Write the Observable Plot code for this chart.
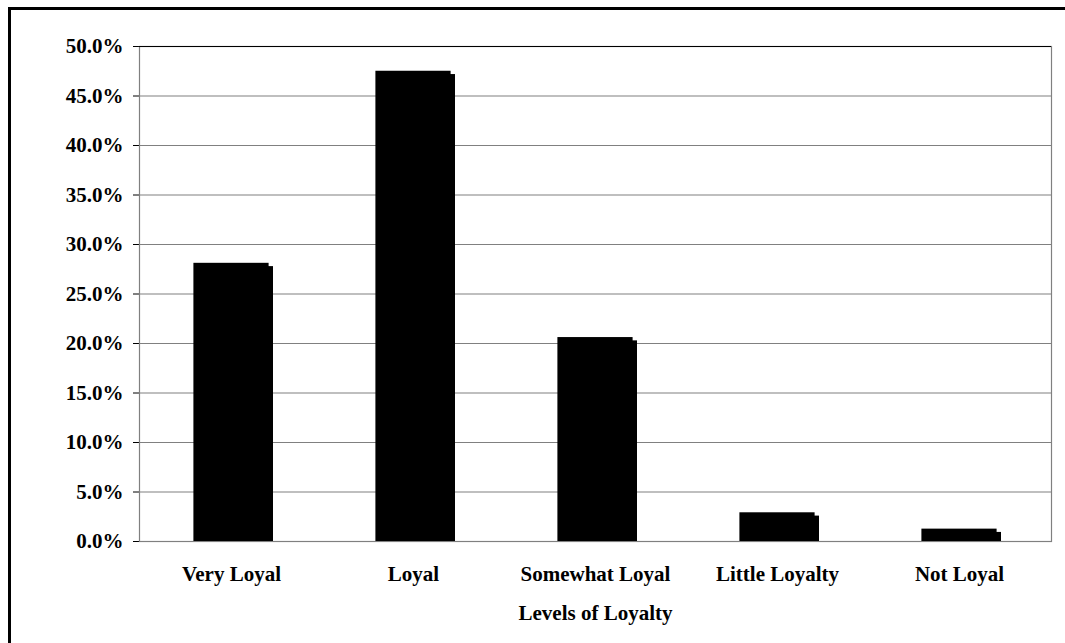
<!DOCTYPE html>
<html><head><meta charset="utf-8">
<script src="https://cdn.jsdelivr.net/npm/d3@7"></script>
<script src="https://cdn.jsdelivr.net/npm/@observablehq/plot@0.6"></script>
<style>
body{margin:0;background:#fff;}
#wrap{position:relative;width:1065px;height:643px;overflow:hidden;background:#fff;}
#wrap svg{display:block;}
#border{position:absolute;left:8px;top:7px;width:1100px;height:700px;border-left:3px solid #000;border-top:3px solid #000;pointer-events:none;}
</style></head><body><div id="wrap"></div>
<script>
const categories = ["Very Loyal", "Loyal", "Somewhat Loyal", "Little Loyalty", "Not Loyal"];
const values = [28.1, 47.5, 20.6, 2.9, 1.25];
const yTicks = [0, 5, 10, 15, 20, 25, 30, 35, 40, 45, 50];
const xTitle = "Levels of Loyalty";

const data = categories.map((c, i) => ({category: c, value: values[i]}));

const chart = Plot.plot({
  width: 1065,
  height: 643,
  marginLeft: 139,
  marginRight: 14,
  marginTop: 46,
  marginBottom: 102,
  style: {fontFamily: "'Liberation Serif', 'Times New Roman', serif", fontSize: "21px", fontWeight: "bold", background: "transparent", color: "#000"},
  x: {domain: categories, padding: 0, label: null, tickSize: 0, tickPadding: 25},
  y: {domain: [0, 50], ticks: yTicks, tickFormat: d => d.toFixed(1) + "%", tickSize: 6, tickPadding: 10, label: null, line: true},
  marks: [
    Plot.ruleY(yTicks.filter(t => t > 0 && t < 50), {stroke: "#808080", strokeWidth: 1.2}),
    Plot.frame({stroke: "#808080", strokeWidth: 1.2}),
    Plot.ruleY([50], {stroke: "#000", strokeWidth: 1.2}),
    Plot.barY(data, {x: "category", y: "value", fill: "#000", insetLeft: 53.4, insetRight: 53.4, insetTop: 3.3, dx: 4.4}),
    Plot.barY(data, {x: "category", y: "value", fill: "#000", insetLeft: 53.4, insetRight: 53.4}),
    Plot.text([xTitle], {text: d => d, frameAnchor: "bottom", dy: 78, fontSize: 21, fontWeight: "bold"})
  ]
});
const wrap = document.getElementById("wrap");
wrap.appendChild(chart);
const b = document.createElement("div");
b.id = "border";
wrap.appendChild(b);
</script>
</body></html>
